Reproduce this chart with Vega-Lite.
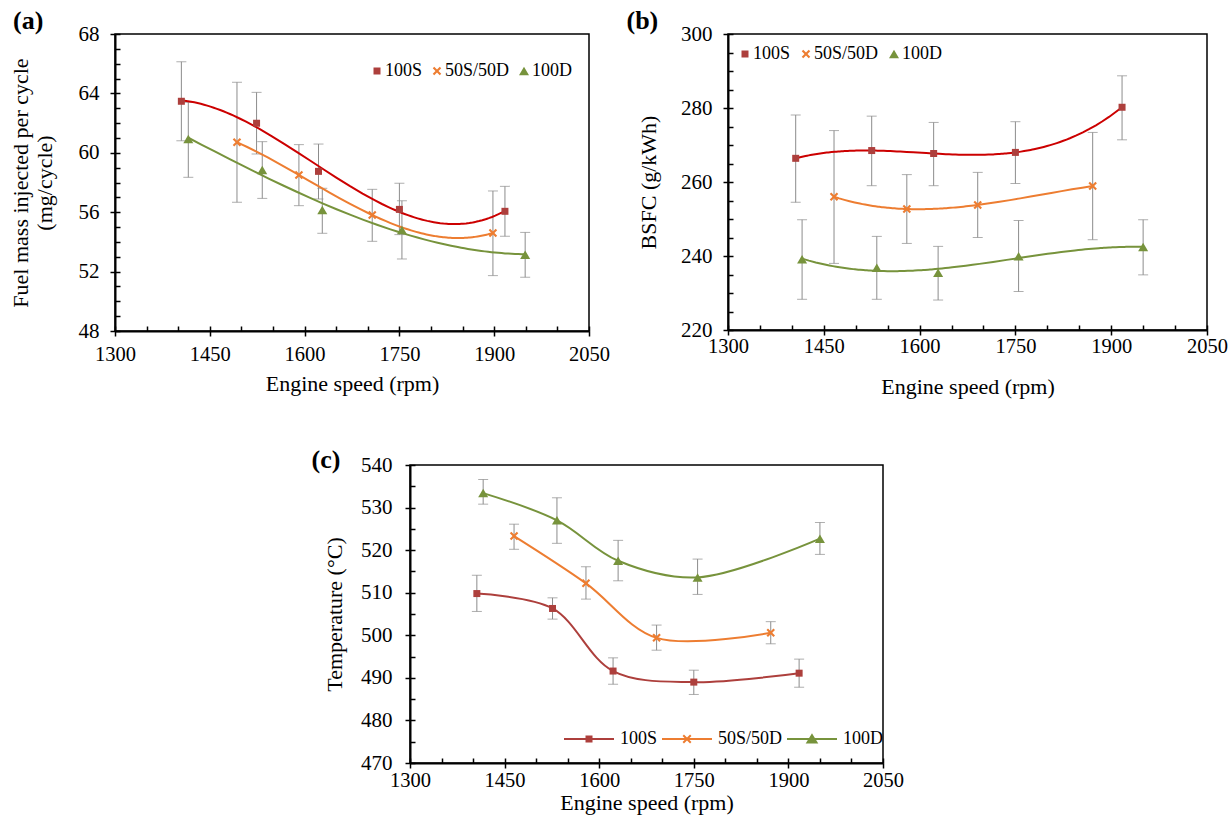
{
  "$schema": "https://vega.github.io/schema/vega-lite/v6.json",
  "padding": {"left": 8, "top": 7, "right": 0, "bottom": 0},
  "background": "white",
  "config": {
    "font": "Liberation Serif",
    "view": {"stroke": "black", "strokeWidth": 1.5},
    "axis": {"grid": false, "domainColor": "black", "domainWidth": 2, "tickColor": "black", "tickWidth": 1.5, "labelColor": "black", "titleColor": "black", "labelFont": "Liberation Serif", "titleFont": "Liberation Serif", "titleFontWeight": "normal", "labelFontSize": 21, "titleFontSize": 22},
    "axisX": {"labelFontSize": 20.5},
    "title": {"font": "Liberation Serif", "fontSize": 26, "fontWeight": "bold", "color": "black", "anchor": "start", "frame": "bounds"}
  },
  "datasets": {
    "a": [
      {"series": "100S", "rpm": 1405, "v": 63.47, "lo": 60.81, "hi": 66.13},
      {"series": "100S", "rpm": 1524, "v": 61.99, "lo": 59.92, "hi": 64.07},
      {"series": "100S", "rpm": 1622, "v": 58.75, "lo": 56.89, "hi": 60.59},
      {"series": "100S", "rpm": 1750, "v": 56.19, "lo": 54.49, "hi": 57.95},
      {"series": "100S", "rpm": 1917, "v": 56.06, "lo": 54.38, "hi": 57.74},
      {"series": "50S/50D", "rpm": 1493, "v": 60.71, "lo": 56.67, "hi": 64.75},
      {"series": "50S/50D", "rpm": 1591, "v": 58.51, "lo": 56.44, "hi": 60.55},
      {"series": "50S/50D", "rpm": 1707, "v": 55.81, "lo": 54.04, "hi": 57.54},
      {"series": "50S/50D", "rpm": 1898, "v": 54.6, "lo": 51.73, "hi": 57.43},
      {"series": "100D", "rpm": 1416, "v": 60.93, "lo": 58.35, "hi": 63.4},
      {"series": "100D", "rpm": 1533, "v": 58.84, "lo": 56.93, "hi": 60.75},
      {"series": "100D", "rpm": 1628, "v": 56.15, "lo": 54.58, "hi": 57.61},
      {"series": "100D", "rpm": 1754, "v": 54.8, "lo": 52.85, "hi": 56.77},
      {"series": "100D", "rpm": 1949, "v": 53.14, "lo": 51.62, "hi": 54.64}
    ],
    "b": [
      {"series": "100S", "rpm": 1406, "v": 266.4, "lo": 254.5, "hi": 278.1},
      {"series": "100S", "rpm": 1525, "v": 268.5, "lo": 259.0, "hi": 277.8},
      {"series": "100S", "rpm": 1622, "v": 267.7, "lo": 259.0, "hi": 276.1},
      {"series": "100S", "rpm": 1750, "v": 268.0, "lo": 259.6, "hi": 276.3},
      {"series": "100S", "rpm": 1917, "v": 280.2, "lo": 271.4, "hi": 288.7},
      {"series": "50S/50D", "rpm": 1466, "v": 256.0, "lo": 238.0, "hi": 273.9},
      {"series": "50S/50D", "rpm": 1580, "v": 252.7, "lo": 243.4, "hi": 262.0},
      {"series": "50S/50D", "rpm": 1691, "v": 253.8, "lo": 245.0, "hi": 262.6},
      {"series": "50S/50D", "rpm": 1871, "v": 258.9, "lo": 244.4, "hi": 273.4},
      {"series": "100D", "rpm": 1416, "v": 239.1, "lo": 228.3, "hi": 249.8},
      {"series": "100D", "rpm": 1533, "v": 236.8, "lo": 228.3, "hi": 245.3},
      {"series": "100D", "rpm": 1629, "v": 235.5, "lo": 228.1, "hi": 242.6},
      {"series": "100D", "rpm": 1755, "v": 239.9, "lo": 230.4, "hi": 249.6},
      {"series": "100D", "rpm": 1950, "v": 242.4, "lo": 234.9, "hi": 249.8}
    ],
    "c": [
      {"series": "100S", "rpm": 1406, "v": 509.8, "lo": 505.6, "hi": 514.1},
      {"series": "100S", "rpm": 1526, "v": 506.3, "lo": 503.8, "hi": 508.8},
      {"series": "100S", "rpm": 1622, "v": 491.6, "lo": 488.5, "hi": 494.7},
      {"series": "100S", "rpm": 1750, "v": 489.0, "lo": 486.1, "hi": 491.8},
      {"series": "100S", "rpm": 1917, "v": 491.1, "lo": 487.8, "hi": 494.4},
      {"series": "50S/50D", "rpm": 1465, "v": 523.3, "lo": 520.2, "hi": 526.1},
      {"series": "50S/50D", "rpm": 1579, "v": 512.2, "lo": 508.5, "hi": 516.1},
      {"series": "50S/50D", "rpm": 1691, "v": 499.4, "lo": 496.5, "hi": 502.4},
      {"series": "50S/50D", "rpm": 1872, "v": 500.6, "lo": 498.0, "hi": 503.2},
      {"series": "100D", "rpm": 1416, "v": 533.4, "lo": 530.8, "hi": 536.6},
      {"series": "100D", "rpm": 1533, "v": 527.0, "lo": 521.6, "hi": 532.3},
      {"series": "100D", "rpm": 1630, "v": 517.5, "lo": 512.8, "hi": 522.3},
      {"series": "100D", "rpm": 1756, "v": 513.6, "lo": 509.6, "hi": 517.9},
      {"series": "100D", "rpm": 1950, "v": 522.7, "lo": 519.0, "hi": 526.5}
    ]
  },
  "vconcat": [
    {
      "spacing": 14,
      "hconcat": [
        {
          "title": {"text": "(a)", "offset": -11, "dx": 4},
          "width": 474, "height": 297,
          "data": {"name": "a"},
          "resolve": {"scale": {"color": "independent", "shape": "independent"}, "axis": {"x": "independent", "y": "independent"}},
          "layer": [
            {
              "mark": {"type": "errorbar", "color": "#8c8c8c", "ticks": {"size": 10, "color": "#8c8c8c"}, "rule": {"strokeWidth": 1}},
              "encoding": {
                "x": {"field": "rpm", "type": "quantitative", "scale": {"domain": [1300, 2050], "nice": false, "zero": false},
                  "axis": {"values": [1300, 1450, 1600, 1750, 1900, 2050], "format": "d", "tickSize": 5, "labelPadding": 8, "labelFlush": false, "title": "Engine speed (rpm)", "titlePadding": 9}},
                "y": {"field": "lo", "type": "quantitative", "scale": {"domain": [48, 68], "nice": false, "zero": false},
                  "axis": {"values": [48, 52, 56, 60, 64, 68], "tickSize": 5, "labelPadding": 11, "title": ["Fuel mass injected per cycle", "(mg/cycle)"], "titlePadding": 22}},
                "y2": {"field": "hi"}
              }
            },
            {
              "transform": [{"regression": "v", "on": "rpm", "groupby": ["series"], "method": "poly", "order": 3}],
              "mark": {"type": "line", "strokeWidth": 2},
              "encoding": {
                "x": {"field": "rpm", "type": "quantitative", "axis": null},
                "y": {"field": "v", "type": "quantitative", "axis": null},
                "color": {"field": "series", "type": "nominal", "scale": {"domain": ["100S", "50S/50D", "100D"], "range": ["#cc0000", "#ed7d31", "#77933c"]}, "legend": null}
              }
            },
            {
              "mark": {"type": "point", "filled": true, "opacity": 1, "size": 100},
              "encoding": {
                "x": {"field": "rpm", "type": "quantitative", "axis": {"orient": "bottom", "values": [1300, 1350, 1400, 1450, 1500, 1550, 1600, 1650, 1700, 1750, 1800, 1850, 1900, 1950, 2000, 2050], "tickSize": -5, "labels": false, "domain": false, "title": null}},
                "y": {"field": "v", "type": "quantitative", "axis": {"orient": "left", "values": [48, 49, 50, 51, 52, 53, 54, 55, 56, 57, 58, 59, 60, 61, 62, 63, 64, 65, 66, 67, 68], "tickSize": -5, "labels": false, "domain": false, "title": null}},
                "color": {"field": "series", "type": "nominal", "scale": {"domain": ["100S", "50S/50D", "100D"], "range": ["#ad3f3c", "#ed7d31", "#77933c"]},
                  "legend": {"title": null, "orient": "none", "legendX": 253, "legendY": 28, "direction": "horizontal", "labelFontSize": 18, "labelFont": "Liberation Serif", "labelColor": "black", "symbolSize": 100, "labelOffset": -1, "columnPadding": 5, "symbolStrokeWidth": 0}},
                "shape": {"field": "series", "type": "nominal", "scale": {"domain": ["100S", "50S/50D", "100D"], "range": ["M-0.7,-0.7H0.7V0.7H-0.7Z", "M-0.85,-0.55L-0.55,-0.85L0,-0.3L0.55,-0.85L0.85,-0.55L0.3,0L0.85,0.55L0.55,0.85L0,0.3L-0.55,0.85L-0.85,0.55L-0.3,0Z", "M0,-0.85L1,0.85L-1,0.85Z"]},
                  "legend": {"title": null, "orient": "none", "legendX": 253, "legendY": 28, "direction": "horizontal", "labelFontSize": 18, "labelFont": "Liberation Serif", "labelColor": "black", "symbolSize": 100, "labelOffset": -1, "columnPadding": 5, "symbolStrokeWidth": 0}}
              }
            }
          ]
        },
        {
          "title": {"text": "(b)", "offset": -11, "dx": -11},
          "width": 479, "height": 296,
          "data": {"name": "b"},
          "resolve": {"scale": {"color": "independent", "shape": "independent"}, "axis": {"x": "independent", "y": "independent"}},
          "layer": [
            {
              "mark": {"type": "errorbar", "color": "#8c8c8c", "ticks": {"size": 10, "color": "#8c8c8c"}, "rule": {"strokeWidth": 1}},
              "encoding": {
                "x": {"field": "rpm", "type": "quantitative", "scale": {"domain": [1300, 2050], "nice": false, "zero": false},
                  "axis": {"values": [1300, 1450, 1600, 1750, 1900, 2050], "format": "d", "tickSize": 5, "labelPadding": 1, "labelFlush": false, "title": "Engine speed (rpm)", "titlePadding": 20}},
                "y": {"field": "lo", "type": "quantitative", "scale": {"domain": [220, 300], "nice": false, "zero": false},
                  "axis": {"values": [220, 240, 260, 280, 300], "tickSize": 5, "labelPadding": 11, "title": "BSFC (g/kWh)", "titlePadding": 20}},
                "y2": {"field": "hi"}
              }
            },
            {
              "transform": [{"filter": "datum.series === '100S'"}, {"regression": "v", "on": "rpm", "groupby": ["series"], "method": "poly", "order": 4}],
              "mark": {"type": "line", "strokeWidth": 2, "color": "#cc0000"},
              "encoding": {
                "x": {"field": "rpm", "type": "quantitative", "axis": null},
                "y": {"field": "v", "type": "quantitative", "axis": null}
              }
            },
            {
              "transform": [{"filter": "datum.series !== '100S'"}, {"regression": "v", "on": "rpm", "groupby": ["series"], "method": "poly", "order": 3}],
              "mark": {"type": "line", "strokeWidth": 2},
              "encoding": {
                "x": {"field": "rpm", "type": "quantitative", "axis": null},
                "y": {"field": "v", "type": "quantitative", "axis": null},
                "color": {"field": "series", "type": "nominal", "scale": {"domain": ["50S/50D", "100D"], "range": ["#ed7d31", "#77933c"]}, "legend": null}
              }
            },
            {
              "mark": {"type": "point", "filled": true, "opacity": 1, "size": 100},
              "encoding": {
                "x": {"field": "rpm", "type": "quantitative", "axis": {"orient": "bottom", "values": [1300, 1350, 1400, 1450, 1500, 1550, 1600, 1650, 1700, 1750, 1800, 1850, 1900, 1950, 2000, 2050], "tickSize": -5, "labels": false, "domain": false, "title": null}},
                "y": {"field": "v", "type": "quantitative", "axis": {"orient": "left", "values": [220, 225, 230, 235, 240, 245, 250, 255, 260, 265, 270, 275, 280, 285, 290, 295, 300], "tickSize": -5, "labels": false, "domain": false, "title": null}},
                "color": {"field": "series", "type": "nominal", "scale": {"domain": ["100S", "50S/50D", "100D"], "range": ["#ad3f3c", "#ed7d31", "#77933c"]},
                  "legend": {"title": null, "orient": "none", "legendX": 8, "legendY": 11, "direction": "horizontal", "labelFontSize": 18, "labelFont": "Liberation Serif", "labelColor": "black", "symbolSize": 100, "labelOffset": -1, "columnPadding": 6, "symbolStrokeWidth": 0}},
                "shape": {"field": "series", "type": "nominal", "scale": {"domain": ["100S", "50S/50D", "100D"], "range": ["M-0.7,-0.7H0.7V0.7H-0.7Z", "M-0.85,-0.55L-0.55,-0.85L0,-0.3L0.55,-0.85L0.85,-0.55L0.3,0L0.85,0.55L0.55,0.85L0,0.3L-0.55,0.85L-0.85,0.55L-0.3,0Z", "M0,-0.85L1,0.85L-1,0.85Z"]},
                  "legend": {"title": null, "orient": "none", "legendX": 8, "legendY": 11, "direction": "horizontal", "labelFontSize": 18, "labelFont": "Liberation Serif", "labelColor": "black", "symbolSize": 100, "labelOffset": -1, "columnPadding": 6, "symbolStrokeWidth": 0}}
              }
            }
          ]
        }
      ]
    },
    {
      "spacing": 194,
      "hconcat": [
        {"data": {"values": []}, "mark": {"type": "rule"}, "encoding": {}, "width": 1, "height": 1, "view": {"stroke": null}},
        {
          "title": {"text": "(c)", "offset": -19, "dx": -12},
          "width": 473, "height": 298,
          "data": {"name": "c"},
          "resolve": {"scale": {"color": "independent", "shape": "independent"}, "axis": {"x": "independent", "y": "independent"}},
          "layer": [
            {
              "mark": {"type": "errorbar", "color": "#8c8c8c", "ticks": {"size": 10, "color": "#8c8c8c"}, "rule": {"strokeWidth": 1}},
              "encoding": {
                "x": {"field": "rpm", "type": "quantitative", "scale": {"domain": [1300, 2050], "nice": false, "zero": false},
                  "axis": {"values": [1300, 1450, 1600, 1750, 1900, 2050], "format": "d", "tickSize": 5, "labelPadding": 2, "labelFlush": false, "title": "Engine speed (rpm)", "titlePadding": 2}},
                "y": {"field": "lo", "type": "quantitative", "scale": {"domain": [470, 540], "nice": false, "zero": false},
                  "axis": {"values": [470, 480, 490, 500, 510, 520, 530, 540], "tickSize": 5, "labelPadding": 13, "title": "Temperature (°C)", "titlePadding": 14}},
                "y2": {"field": "hi"}
              }
            },
            {
              "mark": {"type": "line", "strokeWidth": 2, "interpolate": "catmull-rom"},
              "encoding": {
                "x": {"field": "rpm", "type": "quantitative", "axis": null},
                "y": {"field": "v", "type": "quantitative", "axis": null},
                "color": {"field": "series", "type": "nominal", "scale": {"domain": ["100S", "50S/50D", "100D"], "range": ["#ad3f3c", "#ed7d31", "#77933c"]}, "legend": null}
              }
            },
            {
              "mark": {"type": "point", "filled": true, "opacity": 1, "size": 100},
              "encoding": {
                "x": {"field": "rpm", "type": "quantitative", "axis": {"orient": "bottom", "values": [1300, 1350, 1400, 1450, 1500, 1550, 1600, 1650, 1700, 1750, 1800, 1850, 1900, 1950, 2000, 2050], "tickSize": -5, "labels": false, "domain": false, "title": null}},
                "y": {"field": "v", "type": "quantitative", "axis": {"orient": "left", "values": [470, 475, 480, 485, 490, 495, 500, 505, 510, 515, 520, 525, 530, 535, 540], "tickSize": -5, "labels": false, "domain": false, "title": null}},
                "color": {"field": "series", "type": "nominal", "scale": {"domain": ["100S", "50S/50D", "100D"], "range": ["#ad3f3c", "#ed7d31", "#77933c"]}, "legend": null},
                "shape": {"field": "series", "type": "nominal", "scale": {"domain": ["100S", "50S/50D", "100D"], "range": ["M-0.7,-0.7H0.7V0.7H-0.7Z", "M-0.85,-0.55L-0.55,-0.85L0,-0.3L0.55,-0.85L0.85,-0.55L0.3,0L0.85,0.55L0.55,0.85L0,0.3L-0.55,0.85L-0.85,0.55L-0.3,0Z", "M0,-0.85L1,0.85L-1,0.85Z"]}, "legend": null}
              }
            },
            {
              "mark": {"type": "point", "filled": false, "opacity": 0, "size": 100, "strokeWidth": 2},
              "encoding": {
                "x": {"field": "rpm", "type": "quantitative", "axis": null},
                "y": {"field": "v", "type": "quantitative", "axis": null},
                "color": {"field": "series", "type": "nominal", "scale": {"domain": ["100S", "50S/50D", "100D"], "range": ["#ad3f3c", "#ed7d31", "#77933c"]},
                  "legend": {"title": null, "orient": "none", "legendX": 153, "legendY": 248, "direction": "horizontal", "labelFontSize": 18, "labelFont": "Liberation Serif", "labelColor": "black", "symbolSize": 2500, "symbolStrokeWidth": 2, "symbolOpacity": 1, "labelOffset": 5, "columnPadding": 0}},
                "shape": {"field": "series", "type": "nominal", "scale": {"domain": ["100S", "50S/50D", "100D"], "range": ["M-1,0H1M-0.1,-0.1H0.1V0.1H-0.1ZM-0.03,-0.03H0.03V0.03H-0.03Z", "M-1,0H1M-0.15,-0.15L0.15,0.15M0.15,-0.15L-0.15,0.15", "M-1,0H1M0,-0.15L0.18,0.14L-0.18,0.14ZM0,-0.05L0.07,0.08L-0.07,0.08Z"]},
                  "legend": {"title": null, "orient": "none", "legendX": 153, "legendY": 248, "direction": "horizontal", "labelFontSize": 18, "labelFont": "Liberation Serif", "labelColor": "black", "symbolSize": 2500, "symbolStrokeWidth": 2, "symbolOpacity": 1, "labelOffset": 5, "columnPadding": 0}}
              }
            }
          ]
        }
      ]
    }
  ],
  "spacing": 47
}
